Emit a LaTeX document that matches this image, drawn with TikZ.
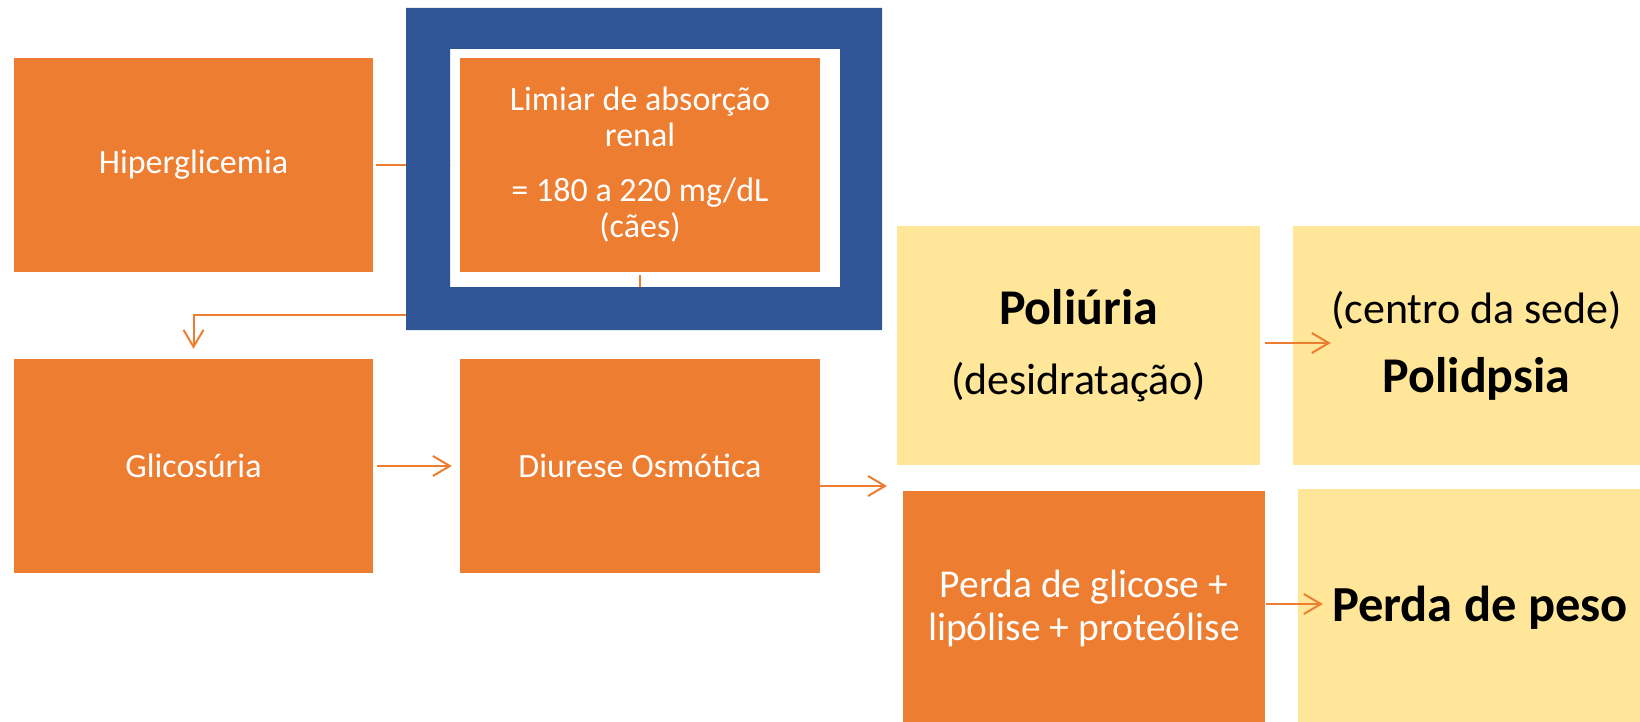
\documentclass[tikz,border=0pt]{standalone}
\usepackage{fontspec}
\setmainfont{Carlito}
\usetikzlibrary{arrows.meta}
\definecolor{org}{HTML}{ED7D31}
\definecolor{blu}{HTML}{2F5597}
\definecolor{yel}{HTML}{FFE699}
\begin{document}
\begin{tikzpicture}[x=1pt,y=-1pt,
  obox/.style={fill=org, text=white, inner sep=0pt, align=center, font=\fontsize{34}{36}\selectfont},
  ybox/.style={fill=yel, text=black, inner sep=0pt, align=center},
  conn/.style={draw=org, line width=2pt, -{Straight Barb[length=17pt,width=20pt,line width=2pt]}}]
\useasboundingbox (0,0) rectangle (1640,722);
\clip (0,0) rectangle (1640,722);
% nodes
\node[obox, minimum width=359pt, minimum height=214pt] (hip) at (193.5,165) {Hiperglicemia};
\node[obox, minimum width=360pt, minimum height=214pt] (lim) at (640,165) {Limiar de absorção\\renal\\[19pt]= 180 a 220 mg/dL\\(cães)};
\node[obox, minimum width=359pt, minimum height=214pt] (glic) at (193.5,466) {Glicosúria};
\node[obox, minimum width=360pt, minimum height=214pt] (diur) at (640,466) {Diurese Osmótica};
\node[ybox, minimum width=363pt, minimum height=239pt, font=\fontsize{44}{70}\selectfont] (poli) at (1078.5,345.5) {{\bfseries\fontsize{50}{70}\selectfont Poliúria}\\(desidratação)};
\node[ybox, minimum width=367pt, minimum height=239pt, font=\fontsize{44}{69}\selectfont] (polid) at (1476.5,345.5) {(centro da sede)\\{\bfseries\fontsize{50}{69}\selectfont Polidpsia}};
\node[obox, minimum width=362pt, minimum height=235pt, font=\fontsize{39.5}{43}\selectfont] (perg) at (1084,608.5) {Perda de glicose +\\lipólise + proteólise};
\node[ybox, minimum width=364pt, minimum height=238pt, font=\bfseries\fontsize{50.5}{60}\selectfont] (peso) at (1480,608) {Perda de peso};
\coordinate (split) at (887,486);
% connectors
\draw[conn] ([xshift=3pt]hip.east) -- ([xshift=-9pt]lim.west);
\draw[conn] ([yshift=-3pt]lim.south) -- ++(0,40) -| ([yshift=10pt]glic.north);
\draw[conn] ([xshift=4pt]glic.east) -- ([xshift=-8pt]diur.west);
\draw[conn] ([yshift=-20pt]diur.east) -- (split);
\draw[conn] ([xshift=5pt,yshift=2.5pt]poli.east) -- ([xshift=38pt,yshift=2.5pt]polid.west);
\draw[conn] ([xshift=1pt,yshift=4.5pt]perg.east) -- ([xshift=25pt,yshift=4pt]peso.west);
% blue frame
\fill[blu, even odd rule] (406,8) rectangle (882,330) (450,49) rectangle (840,287);
\end{tikzpicture}
\end{document}
